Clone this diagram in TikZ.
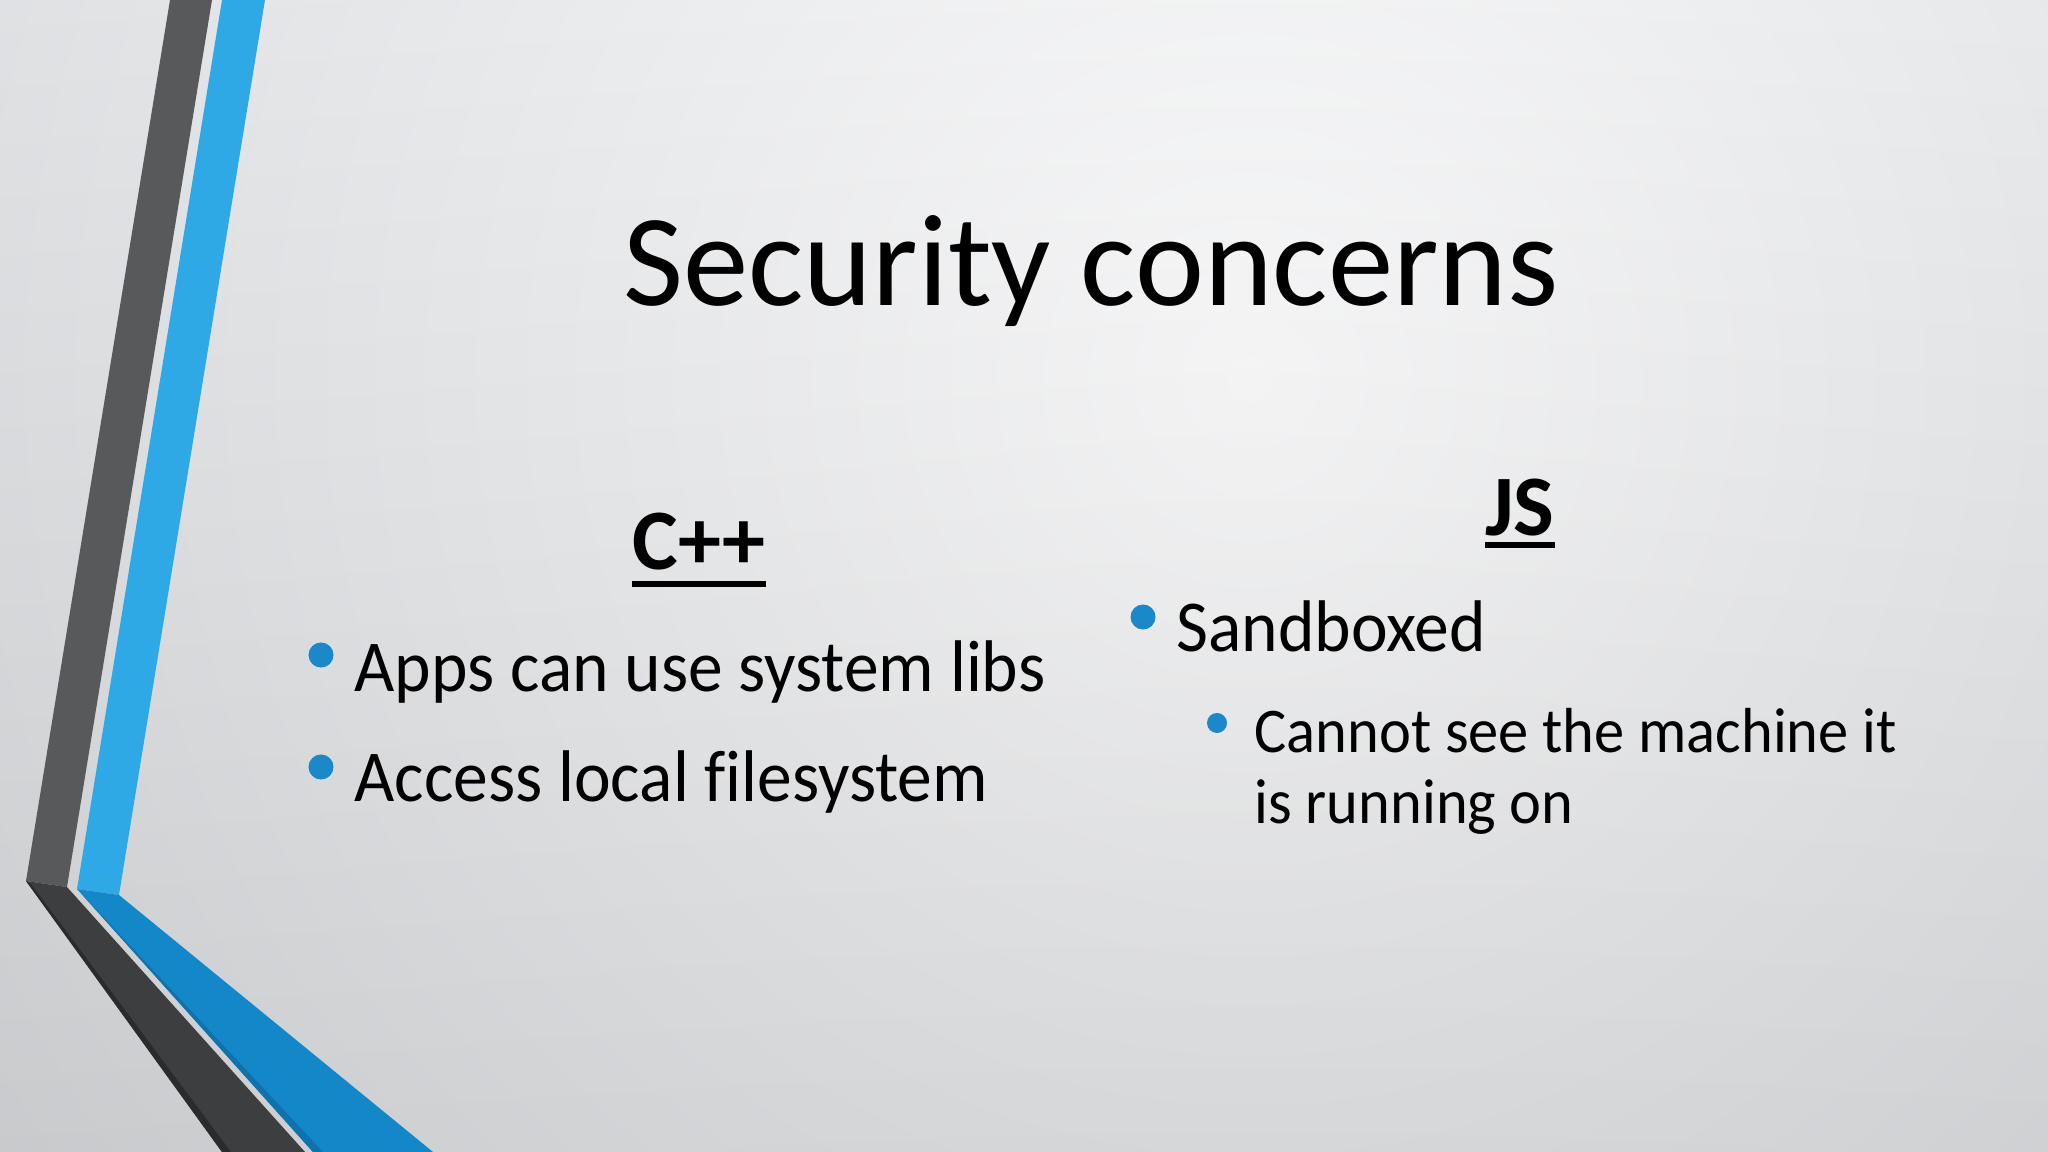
\documentclass[tikz,border=0pt]{standalone}
\usepackage{fontspec}
\setmainfont{Carlito}
\newfontfamily\bodyfont[FakeStretch=0.95, Ligatures=NoCommon]{Carlito}
\usetikzlibrary{calc}

\definecolor{stripedark}{HTML}{58595B}
\definecolor{stripedarklow}{HTML}{3D3E40}
\definecolor{stripedarkedge}{HTML}{2A2B2D}
\definecolor{stripeblue}{HTML}{2EA9E6}
\definecolor{stripebluelow}{HTML}{1387C7}
\definecolor{stripeblueedge}{HTML}{0F72AC}
\definecolor{bulletblue}{HTML}{1A88C9}
\definecolor{bgcenter}{HTML}{FAFAFB}
\definecolor{bgmid}{HTML}{ECEDEF}
\definecolor{bgedge}{HTML}{D3D5D8}
\definecolor{bgouter}{HTML}{C2C4C8}

\pgfdeclareradialshading{slidebg}{\pgfpoint{0bp}{0bp}}{color(0bp)=(bgcenter); color(10bp)=(bgmid); color(30bp)=(bgedge); color(50bp)=(bgouter)}

\tikzset{
    slidetitle/.style={inner sep=0pt, font=\fontsize{37.2}{45}\selectfont},
    colhead/.style={inner sep=0pt, font=\fontsize{24.5}{29}\selectfont\bfseries},
    item/.style={inner sep=0pt, anchor=base west, font=\bodyfont\fontsize{20.8}{25}\selectfont},
    subitem/.style={inner sep=0pt, anchor=base west, font=\bodyfont\fontsize{18.1}{22}\selectfont},
    dot/.style={circle, fill=bulletblue, inner sep=0pt, minimum size=0.25cm},
    subdot/.style={dot, minimum size=0.2cm},
    headline/.style={line width=0.06cm}
}

\begin{document}
\begin{tikzpicture}[x=0.01cm,y=-0.01cm]

            \useasboundingbox (0,0) rectangle (2048,1152);
            \shade[shading=slidebg] (-250,-1120) rectangle (2750,1880);
            \shade[top color=white, bottom color=black, opacity=0.08] (0,0) rectangle (2048,1152);

            \fill[stripedark] (170,0) -- (212,0) -- (67,887) -- (26,881) -- cycle;
            \fill[stripeblue] (222,0) -- (265,0) -- (119,895) -- (77,889) -- cycle;
            \fill[stripedarklow] (26,881) -- (67,887) -- (305,1152) -- (222,1152) -- cycle;
            \fill[stripedarkedge] (26,881) -- (31,884) -- (231,1152) -- (222,1152) -- cycle;
            \fill[stripebluelow] (77,889) -- (119,895) -- (433,1152) -- (313,1152) -- cycle;
            \fill[stripeblueedge] (79,891) -- (323,1152) -- (313,1152) -- cycle;

            \node (title) [slidetitle, anchor=base] at (1091,306) {Security concerns};

            \node (cpp) [colhead, anchor=base] at (699,570) {C++};
            \node (js) [colhead, anchor=base] at (1520,535) {JS};
            \draw[headline] ($(cpp.base west)+(0,14)$) -- ($(cpp.base east)+(0,14)$);
            \draw[headline] ($(js.base west)+(0,10)$) -- ($(js.base east)+(0,10)$);

            \node (dotapps) [dot] at (321,655) {};
            \node (apps) [item] at (354,691) {Apps can use system libs};
            \node (dotaccess) [dot] at (321,767) {};
            \node (access) [item] at (354,801) {Access local filesystem};

            \node (dotsandbox) [dot] at (1143,617) {};
            \node (sandbox) [item] at (1176,652) {Sandboxed};
            \node (dotcannot) [subdot] at (1217,723) {};
            \node (cannot) [subitem] at (1254,752) {Cannot see the machine it};
            \node (running) [subitem] at (1254,823) {is running on};

        \end{tikzpicture}
\end{document}
